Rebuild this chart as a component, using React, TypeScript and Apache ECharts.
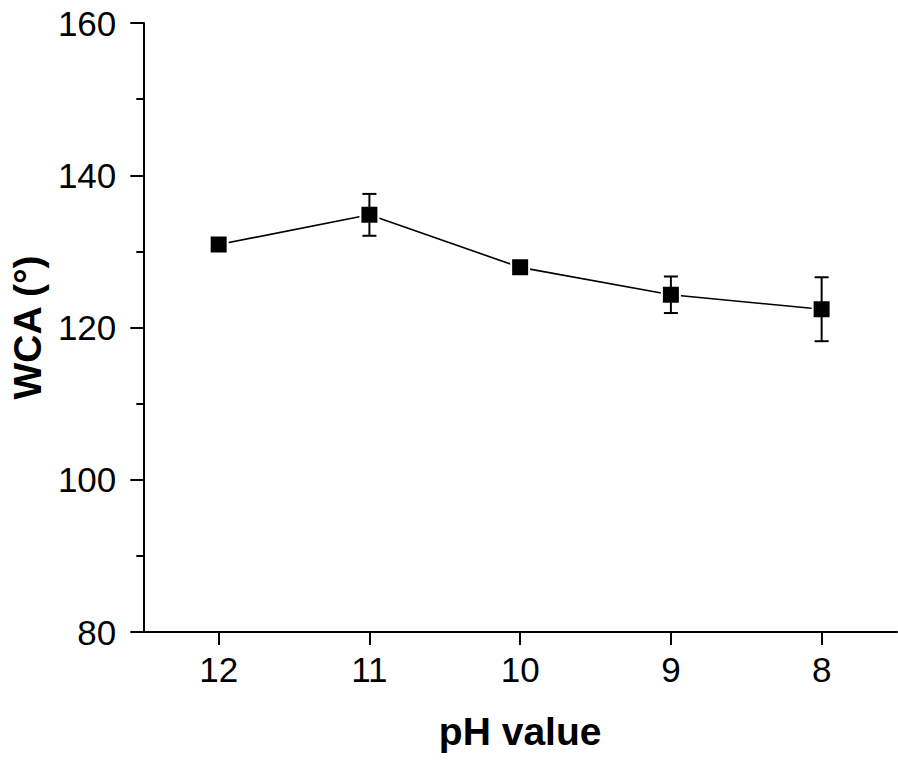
import React, { useEffect, useRef } from "react";
import * as echarts from "echarts";

const categories = ["12", "11", "10", "9", "8"];
const wcaValues = [130.9, 134.8, 127.9, 124.3, 122.4];
const wcaErrors = [0, 2.75, 0, 2.4, 4.2];
const yTicks = [80, 100, 120, 140, 160];

export default function App() {
  const ref = useRef<HTMLDivElement>(null);

  useEffect(() => {
    document.body.style.margin = "0";
    const chart = echarts.init(ref.current!, null, { renderer: "svg" });
    const font = "'Liberation Sans', Arial, sans-serif";
    const errData = categories.map((_, i) => [i, wcaValues[i] - wcaErrors[i], wcaValues[i] + wcaErrors[i]]);

    chart.setOption({
      animation: false,
      backgroundColor: "#ffffff",
      grid: { left: 139, right: 1, top: 23, bottom: 130, containLabel: false },
      xAxis: {
        type: "category",
        data: categories,
        boundaryGap: true,
        name: "pH value",
        nameLocation: "middle",
        nameGap: 80,
        nameTextStyle: { fontFamily: font, fontSize: 39, fontWeight: "bold", color: "#000" },
        axisLine: { show: true, lineStyle: { color: "#000", width: 2 } },
        axisTick: { show: true, alignWithLabel: true, length: 13, lineStyle: { color: "#000", width: 2 } },
        axisLabel: { fontFamily: font, fontSize: 35, color: "#000", margin: 20 },
        splitLine: { show: false },
      },
      yAxis: {
        type: "value",
        min: yTicks[0],
        max: yTicks[yTicks.length - 1],
        interval: 20,
        name: "WCA (°)",
        nameLocation: "middle",
        nameGap: 91,
        nameTextStyle: { fontFamily: font, fontSize: 39, fontWeight: "bold", color: "#000" },
        axisLine: { show: true, lineStyle: { color: "#000", width: 2 } },
        axisTick: { show: true, length: 13, lineStyle: { color: "#000", width: 2 } },
        minorTick: { show: true, splitNumber: 2, length: 7, lineStyle: { color: "#000", width: 2 } },
        axisLabel: { fontFamily: font, fontSize: 35, color: "#000", margin: 27 },
        splitLine: { show: false },
        minorSplitLine: { show: false },
      },
      series: [
        {
          type: "line",
          data: wcaValues,
          symbol: "rect",
          symbolSize: 18,
          lineStyle: { color: "#000", width: 1.6 },
          itemStyle: { color: "#000", borderColor: "#fff", borderWidth: 2 },
          z: 2,
        },
        {
          type: "custom",
          data: errData,
          z: 5,
          renderItem: (params: any, api: any) => {
            const x = api.value(0);
            const lo = api.coord([x, api.value(1)]);
            const hi = api.coord([x, api.value(2)]);
            if (Math.abs(hi[1] - lo[1]) < 1) return { type: "group", children: [] };
            const cap = 7;
            const style = { stroke: "#000", lineWidth: 2 };
            return {
              type: "group",
              children: [
                { type: "line", shape: { x1: lo[0], y1: lo[1], x2: hi[0], y2: hi[1] }, style },
                { type: "line", shape: { x1: hi[0] - cap, y1: hi[1], x2: hi[0] + cap, y2: hi[1] }, style },
                { type: "line", shape: { x1: lo[0] - cap, y1: lo[1], x2: lo[0] + cap, y2: lo[1] }, style },
              ],
            };
          },
        },
      ],
    });

    return () => chart.dispose();
  }, []);

  return <div ref={ref} style={{ width: 898, height: 762 }} />;
}
